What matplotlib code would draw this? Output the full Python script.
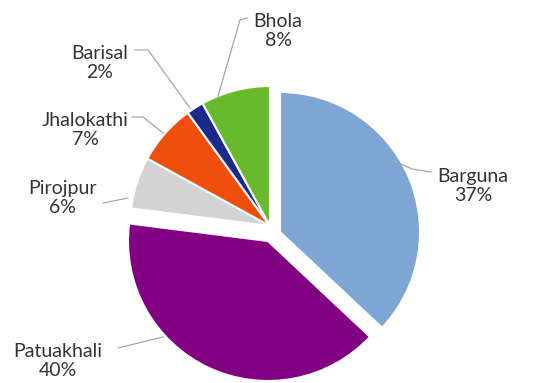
import matplotlib.pyplot as plt

districts = ['Barguna', 'Patuakhali', 'Pirojpur', 'Jhalokathi', 'Barisal', 'Bhola']
shares = [37, 40, 6, 7, 2, 8]
colors = ['#7EA6D4', '#820082', '#D3D3D3', '#F04E0C', '#1C2A8E', '#68B92C']

# label block centres and leader lines, in pixel coords (y from top)
label_xy = [(473, 186), (58, 361), (62, 198), (85, 130), (100, 63), (278, 31)]
leaders = [
    [(392, 160), (412, 169), (431, 172)],
    [(118, 348), (163, 337)],
    [(103, 203), (128, 198)],
    [(132, 117), (143, 117), (163, 133)],
    [(135, 50), (148, 50), (190, 108)],
    [(247, 18), (240, 20), (218, 96)],
]
# where each pulled-out wedge has its tip (pixels, y from top)
tips = [(280, 232), (268, 241), (270, 226), (270, 226), (270, 226), (270, 226)]

W, H = 534, 383
R = 140
fig = plt.figure(figsize=(W / 100, H / 100), dpi=100)
ax = fig.add_axes([0, 0, 1, 1])

wedges, _ = ax.pie(shares, colors=colors, startangle=90, counterclock=False,
                   center=(270, H - 226), radius=R,
                   wedgeprops=dict(edgecolor='white', linewidth=1.5))
for w, (tx, ty) in zip(wedges, tips):
    w.set_center((tx, H - ty))
ax.set_xlim(0, W)
ax.set_ylim(0, H)
ax.set_aspect('equal')
ax.axis('off')

for name, val, (x, y), pts in zip(districts, shares, label_xy, leaders):
    ax.text(x, H - y, f'{name}\n{val}%', ha='center', va='center',
            fontsize=14, family='Lato', color='#333333', linespacing=1.2)
    ax.plot([p[0] for p in pts], [H - p[1] for p in pts], color='#A6A6A6', lw=0.9)

fig.savefig('out.png', dpi=100)
